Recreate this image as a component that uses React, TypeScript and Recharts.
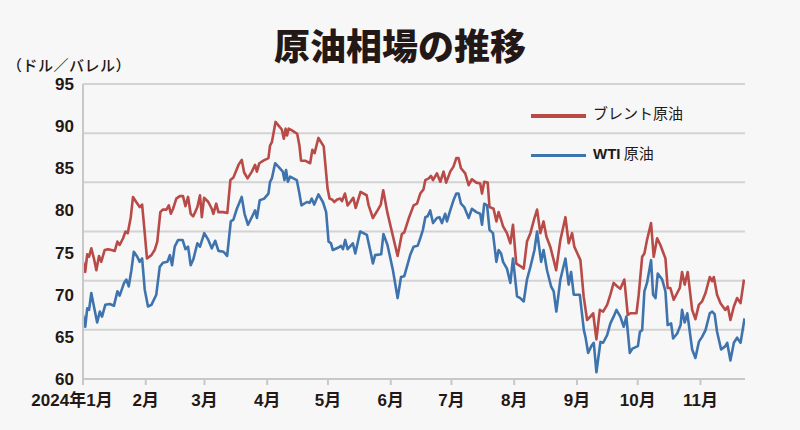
import React from 'react';
import { LineChart, Line, XAxis, YAxis, CartesianGrid } from 'recharts';

// x = days since 2024-01-01
const monthTicks = [0, 31, 60, 91, 121, 152, 182, 213, 244, 274, 305];
const monthLabels = ['2024年1月', '2月', '3月', '4月', '5月', '6月', '7月', '8月', '9月', '10月', '11月'];
const yTicks = [60, 65, 70, 75, 80, 85, 90, 95];
const gridValues = [60, 65.83, 71.67, 77.5, 83.33, 89.17, 95];

const brentDays = [0,1.1,2.1,3,4.1,5.4,6.6,7.9,9,10.7,12.4,14,15.7,17,18.1,19.8,21,22.1,23.6,24.7,26.3,28,29.2,30.2,31.6,33.8,35.4,36.7,38.2,39.4,41.2,42.4,43.4,44.5,46.1,47.8,49.4,50.6,51.9,53.2,54.4,55.4,56.5,57.8,58.7,59.8,61.9,63.6,64.4,65.8,66.9,69.4,71.3,72.8,74.3,76.8,78.4,79.6,81.3,83.4,85,85.9,87.1,89.1,91.6,92.4,93.3,95.1,96.5,98.2,99.2,100.1,100.8,101.6,103.2,105.8,106.9,107.7,109.7,112.2,113.3,114.4,116.3,118.9,120.8,121.8,123,124.1,125.5,127.1,127.9,129.4,130.7,132,133.5,134.7,137.1,140.1,141.1,143.2,145.7,147.1,148.3,150.3,155.4,157.5,158.7,161.1,163.3,165,166.6,168.2,169.1,170.8,171.9,172.9,174.8,176.5,178.1,179.4,181.4,183,184.4,185.5,186.7,188.8,190.5,192.1,194.3,196.2,197.1,198.2,199.9,200.8,202.8,204.2,205.3,206.5,207.5,209.4,211.1,212.4,214,216,217.7,219.3,221,223,224.3,225.9,227.5,228.9,230.8,232.5,233.7,235.8,238.3,239.9,241.6,242.7,245.7,247.3,249,250.6,252,253.6,255.3,256.9,258.9,260.5,262.1,263.8,265.4,267.4,269.1,270.4,273.4,274.5,276.2,277.3,278.6,280.6,281.9,283.6,285.2,287.7,288.8,290.1,291.8,293.5,294.8,295.9,297.2,298.7,300.9,302.5,304.2,305.8,307.5,309.6,310.8,311.6,313.2,314.9,317.3,318.5,319.8,321.5,323.1,324.8,326.5];
const brentValues = [73.9,72.7,74.8,74.5,75.5,74.3,72.9,74.6,73.9,75.3,75.4,75.3,75.2,76.3,75.9,76.7,77.5,77.3,79.2,81.6,81.0,80.4,80.7,78.1,74.3,74.7,75.3,76.3,79.8,80.1,80.1,80.6,79.6,80.2,81.4,81.7,81.7,80.5,81.6,79.6,79.3,79.8,80.4,81.8,79.2,81.5,81.0,80.2,79.6,80.8,79.8,79.8,79.7,83.6,83.9,85.4,86.0,84.5,83.8,84.6,85.4,84.6,85.6,85.9,86.2,87.7,88.1,90.5,90.1,89.6,88.5,89.7,88.9,89.7,89.5,89.1,87.7,85.9,85.9,85.6,87.2,86.8,88.6,87.6,82.6,81.4,81.3,81.0,81.3,81.4,81.1,82.0,80.6,81.0,81.5,80.3,82.2,81.8,80.6,79.1,80.1,80.7,82.4,79.8,74.6,77.2,77.4,79.2,80.6,80.8,82.0,82.5,83.6,83.8,84.1,83.6,84.4,83.4,84.6,83.3,84.6,85.2,86.2,86.2,85.0,84.4,83.0,83.7,83.3,83.2,82.0,83.4,83.3,80.4,80.2,78.7,79.8,78.9,78.1,77.3,76.1,78.3,73.7,73.4,73.1,76.3,77.3,79.1,80.1,77.3,78.7,76.9,75.7,74.1,72.9,76.5,79.2,76.1,77.3,75.7,74.1,69.8,67.0,67.4,67.8,64.7,68.2,68.0,68.8,70.0,71.4,71.0,70.7,71.8,67.6,67.8,67.8,70.0,74.5,74.9,76.5,78.5,74.5,76.7,75.9,74.3,70.8,70.8,69.4,70.2,70.8,72.7,71.2,72.7,68.2,67.1,68.8,69.2,70.2,72.1,71.6,72.1,70.0,69.0,68.2,68.6,67.0,68.6,69.6,69.0,71.8];

const wtiDays = [0,1.1,2.1,3,4.1,5.4,7,8.3,9.4,11,13.2,15.3,17,18.1,20.3,21.4,22.6,23.9,25.1,26.8,28,29.2,30.5,32.1,33.8,36.2,37.9,39.5,41.7,42.9,44,45.3,47,49.2,50.6,51.9,53.2,54.5,56.5,57.8,59.9,61.9,63.6,65.3,66.9,69.4,71.2,73,74.3,76,78.4,79.8,81.5,83.8,85,85.9,87.3,89.5,91.6,92.4,93.3,94.9,96.5,98.7,99.5,100.3,101.2,102.3,105.6,106.9,107.9,110.6,111.9,113,114.2,116.3,118.5,120.1,121.3,122.5,123.4,126.2,127.4,128.4,129.5,130.7,133.3,134.5,136.9,140.2,142.2,143.2,144.3,147.3,148.4,150.4,153.1,155.4,157.1,158.7,161.6,163.3,165.3,166.6,167.9,169.1,170.2,171.5,172.9,174.8,176.1,177.3,178.9,179.8,181.4,183,184.4,185.5,186.7,188.3,190.5,192.1,194.3,196.2,197.1,198.2,199.6,200.8,202.5,204.2,205.3,206.5,207.5,209.4,211.1,212.4,214.4,216,217.7,219.3,221,223,224.3,226.3,227.5,229.2,231.2,232.5,233.8,235.8,238.3,239.9,241.1,242.4,245.4,247.4,248.2,249.5,251.1,252.3,253.6,255.6,256.9,258.9,260.5,262.1,263.5,265.4,267.1,268.4,270.1,271.4,274.1,275.1,276.2,277.3,278.6,280.6,281.6,282.8,283.9,286.1,287.7,288.8,290.5,291.5,293.5,295.2,295.9,297.2,298.5,300.9,302.5,304.2,305.8,307.5,309.6,310.8,312,313.2,315.2,317.3,318.2,319.8,321.5,323.1,324.8,326.8];
const wtiValues = [67.6,66.2,68.4,68.2,70.2,68.6,66.7,68.0,67.4,68.8,68.9,68.7,70.4,69.9,71.4,71.8,71.0,72.9,75.1,74.5,73.9,74.3,70.6,68.6,68.8,70.0,73.3,73.8,73.9,74.7,73.5,75.7,76.5,76.5,75.4,75.7,73.5,74.2,76.1,75.7,77.3,76.5,75.5,76.4,75.2,75.1,74.6,78.7,78.9,80.2,81.6,79.6,78.3,79.4,80.0,79.1,81.2,81.4,82.0,83.4,83.8,85.6,85.2,84.6,83.6,84.8,83.4,84.0,83.6,82.0,80.6,81.0,80.9,81.4,80.7,81.9,81.0,79.8,76.3,76.1,75.3,75.6,75.8,75.4,76.5,75.4,76.1,74.9,77.5,77.1,74.9,73.7,74.7,74.8,77.2,75.9,72.9,69.6,72.1,72.2,74.7,75.7,75.8,76.7,77.7,79.2,79.3,80.0,78.5,79.1,79.2,78.5,79.6,78.7,80.0,81.2,82.0,82.0,80.8,80.4,79.1,80.2,79.8,79.6,78.3,80.8,80.6,77.7,77.3,73.9,75.3,74.9,73.9,73.1,71.4,74.3,69.8,69.6,69.2,71.8,73.3,75.3,77.5,73.9,75.3,72.9,71.0,70.4,68.0,71.8,74.3,71.2,72.7,70.0,70.0,65.8,65.0,63.1,63.9,64.3,60.8,64.4,64.3,65.2,66.6,67.4,68.2,67.4,66.2,67.4,63.1,63.6,63.9,65.6,65.8,70.4,71.4,74.1,70.0,69.6,72.5,71.8,70.4,66.4,66.6,64.8,65.4,66.4,68.2,66.7,67.8,63.5,62.5,64.4,65.0,65.8,67.8,68.0,67.7,65.6,63.5,63.9,64.3,62.2,64.3,64.9,64.3,67.2];

const brentData = brentDays.map((d, i) => ({ d, v: brentValues[i] }));
const wtiData = wtiDays.map((d, i) => ({ d, v: wtiValues[i] }));

const BRENT = '#b84a47';
const WTI = '#3e73ae';
const TEXT = '#231815';
const LATIN = '"Liberation Sans", Arial, "Noto Sans CJK JP", sans-serif';
const CJK = '"Noto Sans CJK JP", sans-serif';

const MonthTick = (props: any) => {
  const { x, y, payload } = props;
  const i = monthTicks.indexOf(payload.value);
  const label = i >= 0 ? monthLabels[i] : '';
  const shift = i === 0 ? -11 : 0;
  return (
    <text x={x + shift} y={y} dy="0.71em" textAnchor="middle" fill={TEXT} fontSize={17} fontWeight={700} fontFamily={LATIN}>
      {label}
    </text>
  );
};

export default function App() {
  return (
    <div style={{ position: 'absolute', left: 0, top: 0, width: 800, height: 430, background: '#f7f7f7', overflow: 'hidden' }}>
      <div style={{ position: 'absolute', left: 0, top: 26, width: 800, textAlign: 'center', fontFamily: CJK, fontWeight: 900, fontSize: 36, lineHeight: '36px', color: TEXT }}>
        原油相場の推移
      </div>
      <div style={{ position: 'absolute', left: 7, top: 57, fontFamily: CJK, fontWeight: 500, fontSize: 15, lineHeight: '15px', color: TEXT, letterSpacing: 0.5 }}>
        （ドル／バレル）
      </div>
      <LineChart width={800} height={430} margin={{ top: 84, right: 55, bottom: 0, left: 0 }} style={{ position: 'absolute', left: 0, top: 0 }}>
        <CartesianGrid vertical={false} horizontalValues={gridValues} stroke="#d3d3d3" strokeWidth={2} />
        <XAxis
          type="number"
          dataKey="d"
          domain={[0, 327]}
          ticks={monthTicks}
          height={51}
          allowDataOverflow
          axisLine={{ stroke: '#c8c8c8', strokeWidth: 2 }}
          tickLine={{ stroke: '#c8c8c8', strokeWidth: 2 }}
          tickSize={6}
          tickMargin={9}
          interval={0}
          tick={<MonthTick />}
        />
        <YAxis
          type="number"
          domain={[60, 95]}
          ticks={yTicks}
          interval={0}
          width={83}
          axisLine={{ stroke: '#c8c8c8', strokeWidth: 2 }}
          tickLine={false}
          tickMargin={3}
          tick={{ fill: TEXT, fontSize: 17, fontWeight: 700, fontFamily: LATIN }}
        />
        <Line data={brentData} dataKey="v" type="linear" stroke={BRENT} strokeWidth={2.6} dot={false} isAnimationActive={false} strokeLinejoin="round" />
        <Line data={wtiData} dataKey="v" type="linear" stroke={WTI} strokeWidth={2.6} dot={false} isAnimationActive={false} strokeLinejoin="round" />
      </LineChart>
      <div style={{ position: 'absolute', left: 531, top: 114, width: 55, height: 3.5, background: BRENT }} />
      <div style={{ position: 'absolute', left: 593, top: 104, fontFamily: CJK, fontSize: 15, lineHeight: '18px', color: TEXT }}>
        ブレント原油
      </div>
      <div style={{ position: 'absolute', left: 531, top: 153.5, width: 55, height: 3.5, background: WTI }} />
      <div style={{ position: 'absolute', left: 593, top: 144, fontSize: 15, lineHeight: '18px', color: TEXT }}>
        <span style={{ fontFamily: LATIN, fontWeight: 700 }}>WTI</span>
        <span style={{ fontFamily: CJK }}> 原油</span>
      </div>
    </div>
  );
}
